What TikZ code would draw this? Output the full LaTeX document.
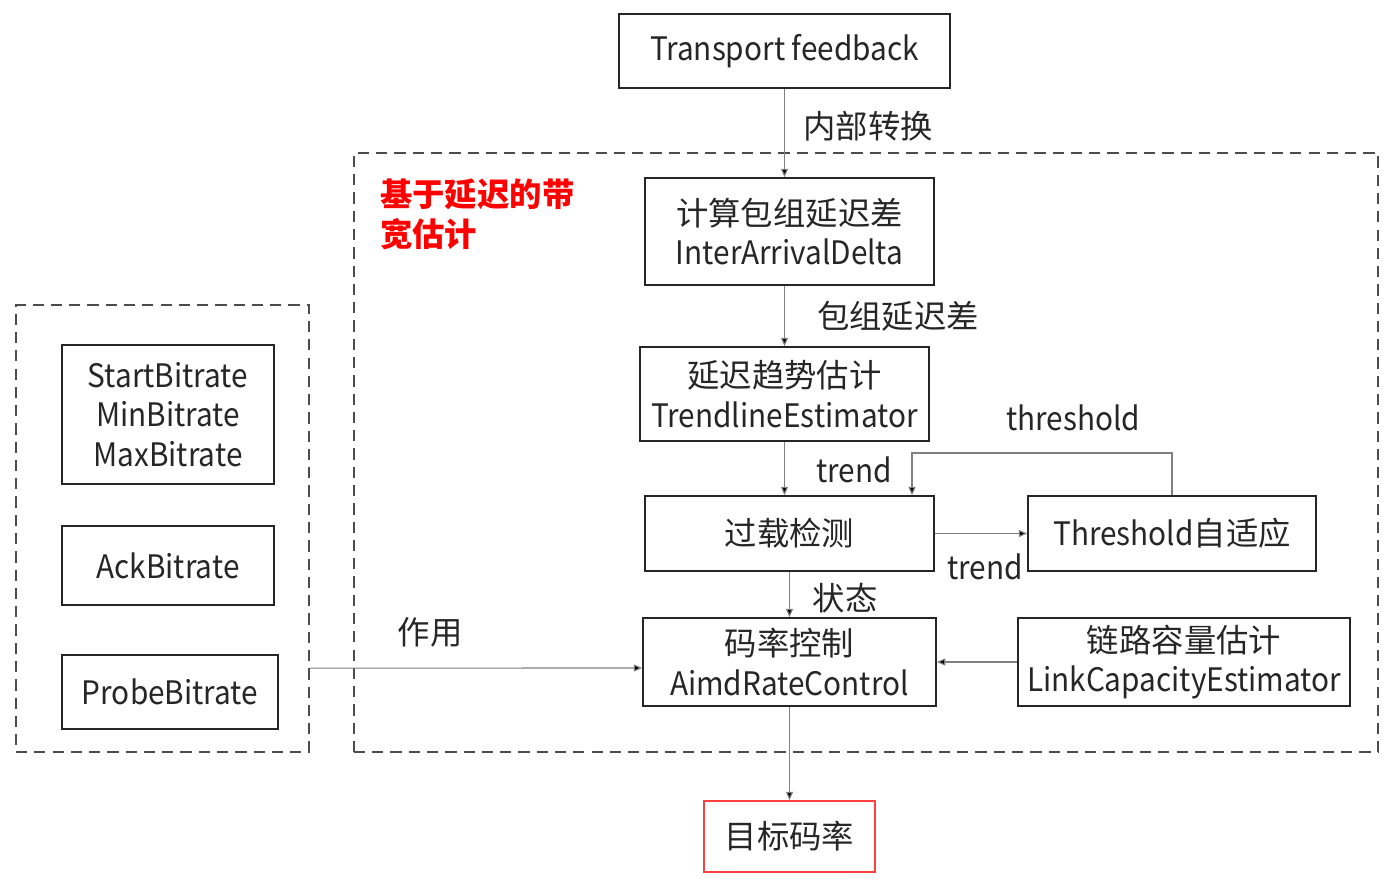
\documentclass[tikz,border=0pt]{standalone}
\usepackage{fontspec}
\setmainfont{Noto Sans CJK SC}
\newfontfamily\latn{Noto Sans CJK SC}[FakeStretch=0.92]
\usetikzlibrary{arrows.meta}

\tikzset{
  blk/.style={draw=black!85, line width=1.1pt, align=center, inner sep=0pt, text=black!85,
    font={\fontsize{23}{28}\selectfont}},
  grp/.style={draw=black!70, line width=1.2pt, dash pattern=on 8pt off 5pt, inner sep=0pt},
  flow/.style={draw=black!50, line width=0.8pt, -{Triangle[length=6pt,width=5pt,fill=black]}},
  lbl/.style={inner sep=0pt, text=black!85, font={\fontsize{23}{28}\selectfont}},
}

\begin{document}
\begin{tikzpicture}[x=0.025cm, y=-0.025cm]
    \useasboundingbox (0,0) rectangle (1398,888);

    % dashed groups
    \node[grp, minimum width=25.6cm, minimum height=14.975cm] (dbe) at (866, 452.5) {};
    \node[grp, minimum width=7.325cm, minimum height=11.175cm] (inputs) at (162.5, 528.5) {};
    \node[anchor=north west, align=left, inner sep=0pt, text=red,
          font={\fontsize{23}{28}\selectfont\bfseries}] (title) at (380, 179) {基于延迟的带\\宽估计};

    % main chain
    \node[blk, minimum width=8.275cm, minimum height=1.85cm] (feedback) at (784.5, 51) {\latn Transport feedback};
    \node[blk, minimum width=7.225cm, minimum height=2.675cm] (delta) at (789.5, 231.5) {计算包组延迟差\\{\latn InterArrivalDelta}};
    \node[blk, minimum width=7.225cm, minimum height=2.35cm] (trendline) at (784.5, 394) {延迟趋势估计\\{\latn TrendlineEstimator}};
    \node[blk, minimum width=7.225cm, minimum height=1.875cm] (overuse) at (789.5, 533.5) {过载检测};
    \node[blk, minimum width=7.2cm, minimum height=1.875cm] (adapt) at (1172, 533.5) {{\latn Threshold}自适应};
    \node[blk, minimum width=7.325cm, minimum height=2.2cm] (aimd) at (789.5, 662) {码率控制\\{\latn AimdRateControl}};
    \node[blk, minimum width=8.3cm, minimum height=2.2cm] (capacity) at (1184, 662) {链路容量估计\\{\latn LinkCapacityEstimator}};
    \node[blk, draw=red!75, minimum width=4.275cm, minimum height=1.775cm] (target) at (789.5, 836.5) {目标码率};

    % bitrate inputs
    \node[blk, font={\fontsize{23}{28}\selectfont\latn}, minimum width=5.3cm, minimum height=3.475cm] (limits) at (168, 414.5) {StartBitrate\\MinBitrate\\MaxBitrate};
    \node[blk, font={\fontsize{23}{28}\selectfont\latn}, minimum width=5.3cm, minimum height=1.975cm] (ack) at (168, 565.5) {AckBitrate};
    \node[blk, font={\fontsize{23}{28}\selectfont\latn}, minimum width=5.4cm, minimum height=1.85cm] (probe) at (170, 692) {ProbeBitrate};

    % connectors
    \draw[flow] (feedback.south) -- (feedback.south |- delta.north);
    \draw[flow] (trendline.north |- delta.south) -- (trendline.north);
    \draw[flow] (trendline.south) -- (trendline.south |- overuse.north);
    \draw[flow] (overuse.east) -- (adapt.west);
    \coordinate (fb) at (912, 453);
    \draw[flow] (adapt.north) |- (fb) -- (fb |- overuse.north);
    \draw[flow] (overuse.south) -- (aimd.north);
    \draw[flow] (capacity.west) -- (capacity.west -| aimd.east);
    \draw[flow] ([yshift=-3.49cm]inputs.east) -- ([yshift=-0.15cm]aimd.west);
    \draw[flow] (aimd.south) -- (target.north);

    % labels
    \node[lbl] (l1) at (868, 126) {内部转换};
    \node[lbl] (l2) at (898, 316) {包组延迟差};
    \node[lbl, font={\fontsize{23}{28}\selectfont\latn}] (l3) at (854, 470) {trend};
    \node[lbl, font={\fontsize{23}{28}\selectfont\latn}] (l4) at (1073, 418) {threshold};
    \node[lbl, font={\fontsize{23}{28}\selectfont\latn}] (l5) at (985, 567) {trend};
    \node[lbl] (l6) at (845, 598) {状态};
    \node[lbl] (l7) at (430, 632) {作用};
\end{tikzpicture}
\end{document}
